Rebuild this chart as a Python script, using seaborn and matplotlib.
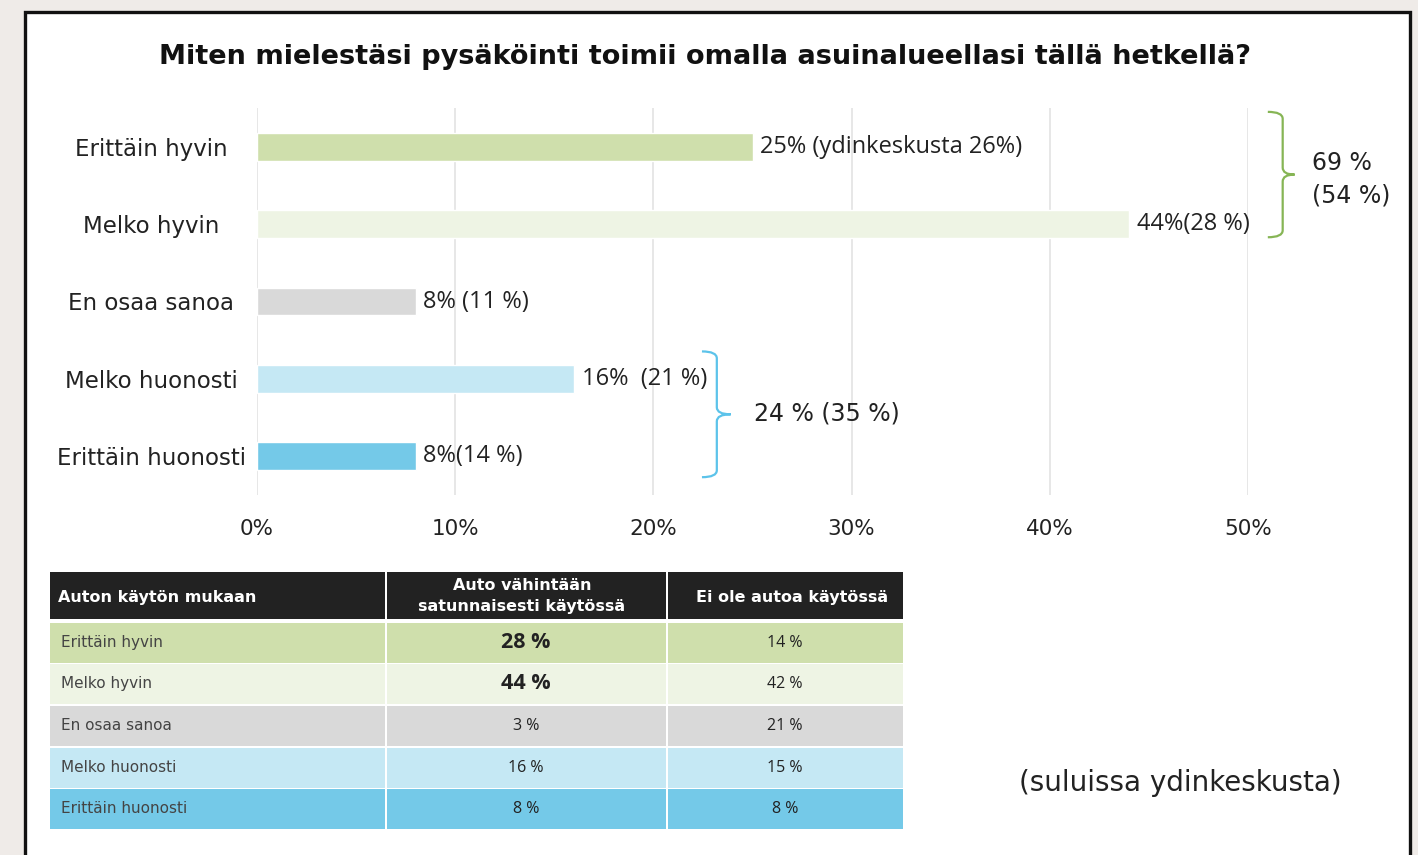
import matplotlib
matplotlib.use("Agg")
import matplotlib.pyplot as plt
from matplotlib.patches import Rectangle, PathPatch
from matplotlib.path import Path
import pandas as pd
import seaborn as sns

# ---------------- data ----------------
title = "Miten mielestäsi pysäköinti toimii omalla asuinalueellasi tällä hetkellä?"
categories = ["Erittäin hyvin", "Melko hyvin", "En osaa sanoa", "Melko huonosti", "Erittäin huonosti"]
shares = [25, 44, 8, 16, 8]
core_shares = [26, 28, 11, 21, 14]
bar_labels = ["25% (ydinkeskusta 26%)", "44%(28 %)", "8% (11 %)", "16%  (21 %)", "8%(14 %)"]
bar_colors = ["#cfdfac", "#eef4e4", "#d9d9d9", "#c5e8f4", "#74c9e8"]
x_ticks = [0, 10, 20, 30, 40, 50]
x_tick_labels = ["0%", "10%", "20%", "30%", "40%", "50%"]
good_label_lines = ["69 %", "(54 %)"]
bad_label = "24 % (35 %)"
footnote = "(suluissa ydinkeskusta)"

table_header = ["Auton käytön mukaan", "Auto vähintään\nsatunnaisesti käytössä", "Ei ole autoa käytössä"]
car_users = ["28 %", "44 %", "3 %", "16 %", "8 %"]
no_car = ["14 %", "42 %", "21 %", "15 %", "8 %"]
car_users_bold = [True, True, False, False, False]

# ---------------- style ----------------
sns.set_theme(style="white")
plt.rcParams["font.family"] = ["DejaVu Sans"]
LABEL_FONT = ["Open Sans", "DejaVu Sans"]
NUM_FONT = ["Open Sans", "DejaVu Sans"]
W, H = 1418, 855
fig = plt.figure(figsize=(W / 100, H / 100), dpi=100)
fig.patch.set_facecolor("#efebe8")

def fx(px):
    return px / W

def fy(py):
    return 1 - py / H

# frame
frame = Rectangle((fx(25), fy(900)), fx(1410) - fx(25), fy(12) - fy(900),
                  transform=fig.transFigure, facecolor="white", edgecolor="#111111",
                  linewidth=2.4, zorder=-5)
fig.patches.append(frame)

fig.text(fx(705), fy(57), title, ha="center", va="center", fontsize=19.5,
         fontweight="bold", color="#111111")

# ---------------- bar chart ----------------
ax = fig.add_axes([fx(257), fy(495), fx(1248) - fx(257), fy(108) - fy(495)])
ax.set_facecolor("none")
df = pd.DataFrame({"category": categories, "share": shares})
sns.barplot(data=df, x="share", y="category", hue="category", palette=bar_colors,
            width=0.36, legend=False, ax=ax, orient="h", saturation=1)
ax.set_xlim(0, 50)
ax.set_ylim(4.5, -0.5)
for s in ax.spines.values():
    s.set_visible(False)
ax.set_xticks(x_ticks)
ax.set_xticklabels(x_tick_labels)
ax.xaxis.grid(True, color="#e3e3e3", linewidth=1.2)
ax.set_axisbelow(True)
ax.set_xlabel("")
ax.set_ylabel("")
ax.tick_params(axis="x", length=0, pad=17, labelsize=15.5, labelcolor="#222222")
ax.tick_params(axis="y", length=0, pad=76, labelsize=16.5, labelcolor="#222222")
for lab in ax.get_yticklabels():
    lab.set_ha("center")

for i, (v, lab) in enumerate(zip(shares, bar_labels)):
    ax.text(v + 0.4, i, lab, va="center", ha="left", fontsize=17, color="#222222",
            family=LABEL_FONT)

def brace(x0, x1, xtip, ytop, ybot, color):
    ymid = (ytop + ybot) / 2
    r = 0.09
    verts = [(x0, ytop), (x1, ytop), (x1, ytop + r),
             (x1, ymid - r), (x1, ymid), (xtip, ymid),
             (x1, ymid), (x1, ymid + r),
             (x1, ybot - r), (x1, ybot), (x0, ybot)]
    codes = [Path.MOVETO, Path.CURVE3, Path.CURVE3,
             Path.LINETO, Path.CURVE3, Path.CURVE3,
             Path.CURVE3, Path.CURVE3,
             Path.LINETO, Path.CURVE3, Path.CURVE3]
    ax.add_patch(PathPatch(Path(verts, codes), facecolor="none", edgecolor=color,
                           linewidth=1.6, clip_on=False))

brace(51.0, 51.75, 52.35, -0.45, 1.17, "#86b555")
brace(22.45, 23.2, 23.9, 2.645, 4.27, "#5cc3ea")

ax.text(53.25, 0.21, good_label_lines[0], ha="left", va="center", fontsize=17, color="#222222")
ax.text(53.25, 0.63, good_label_lines[1], ha="left", va="center", fontsize=17, color="#222222")
ax.text(25.1, 3.45, bad_label, ha="left", va="center", fontsize=17, color="#222222")

# ---------------- table ----------------
tax = fig.add_axes([fx(50), fy(830), fx(903) - fx(50), fy(572) - fy(830)])
tax.set_xlim(50, 903)
tax.set_ylim(830, 572)
tax.axis("off")
col_edges = [(50, 385), (387, 666), (668, 903)]
header_top, header_bot = 572, 619
row_tops = [623, 664, 706, 748, 789]
row_h = 39.5

for j, (a, b) in enumerate(col_edges):
    tax.add_patch(Rectangle((a, header_top), b - a, header_bot - header_top,
                            facecolor="#222222", edgecolor="none"))
tax.text(58, 597, table_header[0], ha="left", va="center", color="white",
         fontsize=11.5, fontweight="bold")
tax.text(522, 596, table_header[1], ha="center", va="center", color="white",
         fontsize=11.5, fontweight="bold", linespacing=1.45)
tax.text(792, 597, table_header[2], ha="center", va="center", color="white",
         fontsize=11.5, fontweight="bold")

for i, cat in enumerate(categories):
    top = row_tops[i]
    for (a, b) in col_edges:
        tax.add_patch(Rectangle((a, top), b - a, row_h, facecolor=bar_colors[i],
                                edgecolor="none"))
    cy = top + row_h / 2
    tax.text(61, cy, cat, ha="left", va="center", fontsize=11, color="#444444")
    if car_users_bold[i]:
        tax.text(526, cy, car_users[i], ha="center", va="center", fontsize=15.5,
                 fontweight="bold", color="#222222", family=NUM_FONT)
    else:
        tax.text(526, cy, car_users[i], ha="center", va="center", fontsize=11.5,
                 color="#222222", family=NUM_FONT)
    tax.text(785, cy, no_car[i], ha="center", va="center", fontsize=11.5,
             color="#222222", family=NUM_FONT)

fig.text(fx(1180), fy(783), footnote, ha="center", va="center", fontsize=20,
         color="#222222")

fig.savefig("out.png", dpi=100, facecolor=fig.get_facecolor())
